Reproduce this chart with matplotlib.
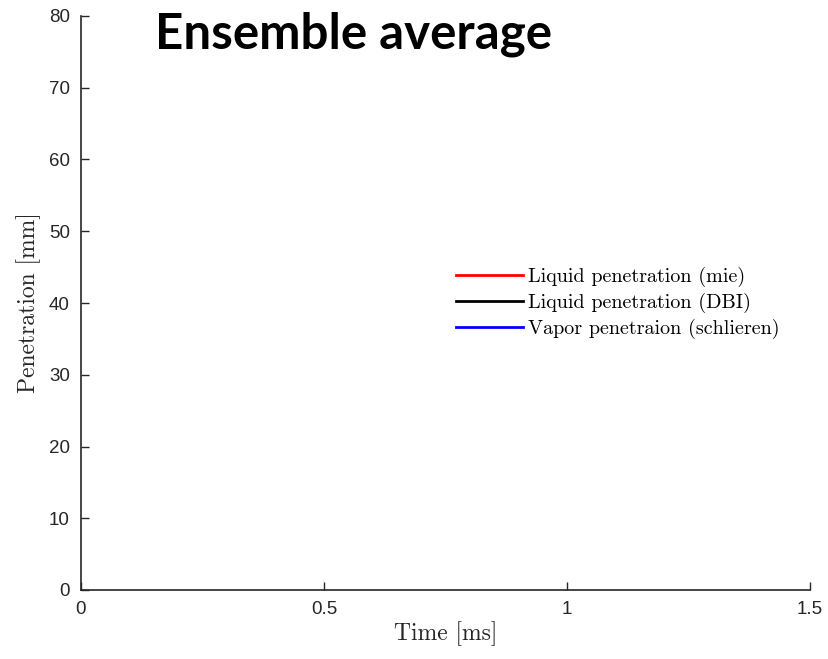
import matplotlib
matplotlib.use("Agg")
import matplotlib.pyplot as plt

# legend entries (no traces drawn in the reference frame)
series_labels = ['Liquid penetration (mie)', 'Liquid penetration (DBI)', 'Vapor penetraion (schlieren)']
series_colors = ['#ff0000', '#000000', '#0000ff']
series_x = [[], [], []]
series_y = [[], [], []]

x_ticks = [0, 0.5, 1, 1.5]
x_ticklabels = ['0', '0.5', '1', '1.5']
y_ticks = [0, 10, 20, 30, 40, 50, 60, 70, 80]

fig = plt.figure(figsize=(8.29, 6.59), dpi=100)
ax = fig.add_axes([81/829, 1 - 590/659, (810-81)/829, (590-16)/659])

for xs, ys, lab, col in zip(series_x, series_y, series_labels, series_colors):
    ax.plot(xs, ys, color=col, lw=2, label=lab)

ax.set_xlim(0, 1.5)
ax.set_ylim(0, 80)
ax.set_xticks(x_ticks)
ax.set_xticklabels(x_ticklabels)
ax.set_yticks(y_ticks)

for s in ['top', 'right']:
    ax.spines[s].set_visible(False)
for s in ['left', 'bottom']:
    ax.spines[s].set_color('#262626')
    ax.spines[s].set_linewidth(1.2)
ax.tick_params(direction='in', length=6, width=1, colors='#262626',
               labelsize=13.5, pad=8)
for lbl in ax.get_xticklabels() + ax.get_yticklabels():
    lbl.set_fontfamily('Liberation Sans')

ax.set_xlabel('Time [ms]', fontfamily='cmr10', fontsize=17, color='#262626', labelpad=2)
ax.set_ylabel('Penetration [mm]', fontfamily='cmr10', fontsize=17, color='#262626', labelpad=6)

leg = ax.legend(loc='center left', bbox_to_anchor=(0.49, 0.5), frameon=False,
                prop={'family': 'cmr10', 'size': 14.5}, handlelength=3.3,
                handletextpad=0.25, labelspacing=0.28)

fig.text(155/829, 1 - 34/659, 'Ensemble average', fontfamily='Lato', fontweight='bold',
         fontsize=35.5, va='center', ha='left', color='black')

fig.savefig('out.png', dpi=100)
